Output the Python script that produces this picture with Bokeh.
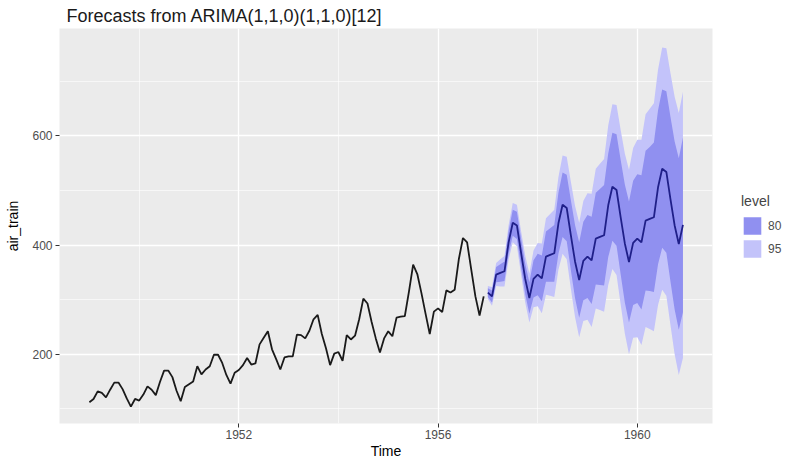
from bokeh.plotting import figure
from bokeh.models import FixedTicker, Range1d, Legend, LegendItem
from bokeh.embed import file_html
from bokeh.resources import INLINE

# ---- data ----
train_start = 1949
air_train = [
    112, 118, 132, 129, 121, 135, 148, 148, 136, 119, 104, 118,
    115, 126, 141, 135, 125, 149, 170, 170, 158, 133, 114, 140,
    145, 150, 178, 163, 172, 178, 199, 199, 184, 162, 146, 166,
    171, 180, 193, 181, 183, 218, 230, 242, 209, 191, 172, 194,
    196, 196, 236, 235, 229, 243, 264, 272, 237, 211, 180, 201,
    204, 188, 235, 227, 234, 264, 302, 293, 259, 229, 203, 229,
    242, 233, 267, 269, 270, 315, 364, 347, 312, 274, 237, 278,
    284, 277, 317, 313, 318, 374, 413, 405, 355, 306, 271, 306,
]

fc_start = 1957
fc_mean = [
    313, 306, 346, 349, 352, 405, 441, 436, 386, 338, 303, 338,
    346, 339, 379, 382, 385, 440, 474, 468, 418, 370, 336, 371,
    379, 372, 412, 415, 418, 473, 507, 501, 451, 403, 369, 404,
    412, 405, 445, 448, 451, 506, 540, 534, 484, 436, 402, 437,
]
hw80 = [
    8, 11, 14, 16, 18, 21, 24, 25, 26, 28, 29, 34,
    38, 42, 46, 49, 52, 56, 59, 61, 64, 67, 69, 72,
    76, 80, 84, 88, 92, 95, 99, 102, 105, 108, 111, 114,
    118, 123, 128, 132, 137, 141, 145, 148, 151, 154, 157, 160,
]
hw95 = [
    12, 17, 21, 25, 28, 32, 36, 38, 40, 43, 45, 52,
    58, 64, 70, 75, 80, 85, 90, 94, 98, 102, 105, 110,
    116, 122, 128, 134, 140, 146, 151, 156, 160, 165, 169, 174,
    181, 188, 195, 202, 209, 216, 222, 227, 231, 236, 240, 244,
]
levels = ["80", "95"]
x_ticks = [1952, 1956, 1960]
x_minor = [1950, 1954, 1958]
y_ticks = [200, 400, 600]
y_minor = [100, 300, 500, 700]

# ---- derived ----
t_train = [train_start + i / 12 for i in range(len(air_train))]
t_fc = [fc_start + i / 12 for i in range(len(fc_mean))]
lo80 = [m - h for m, h in zip(fc_mean, hw80)]
hi80 = [m + h for m, h in zip(fc_mean, hw80)]
lo95 = [m - h for m, h in zip(fc_mean, hw95)]
hi95 = [m + h for m, h in zip(fc_mean, hw95)]

FONT = "Liberation Sans"
c80 = "#9090F0"
c95 = "#C3C3FA"

p = figure(
    frame_width=653, frame_height=395,
    output_backend="svg", toolbar_location=None,
    x_range=Range1d(1948.40, 1961.51), y_range=Range1d(73, 797),
    min_border_left=59, min_border_right=10, min_border_top=0, min_border_bottom=0,
    title="Forecasts from ARIMA(1,1,0)(1,1,0)[12]",
)
p.background_fill_color = "#EBEBEB"
p.border_fill_color = "white"
p.outline_line_color = None

p.title.text_font = FONT
p.title.text_font_size = "18px"
p.title.text_font_style = "normal"
p.title.text_color = "#1a1a1a"
p.title.standoff = 6
p.title.align = "left"
p.title.offset = 7

r95 = p.varea(x=t_fc, y1=lo95, y2=hi95, fill_color=c95)
r80 = p.varea(x=t_fc, y1=lo80, y2=hi80, fill_color=c80)
p.line(t_train, air_train, line_color="#1a1a1a", line_width=1.8)
p.line(t_fc, fc_mean, line_color="#1F1F88", line_width=1.8)

p.xaxis.ticker = FixedTicker(ticks=x_ticks, minor_ticks=x_minor)
p.yaxis.ticker = FixedTicker(ticks=y_ticks, minor_ticks=y_minor)
for g in (p.xgrid, p.ygrid):
    g.grid_line_color = "white"
    g.grid_line_width = 1.3
    g.minor_grid_line_color = "white"
    g.minor_grid_line_width = 0.6

for ax in (p.xaxis, p.yaxis):
    ax.axis_line_color = None
    ax.major_tick_line_color = "#333333"
    ax.major_tick_out = 4
    ax.major_tick_in = 0
    ax.minor_tick_line_color = None
    ax.major_label_text_font = FONT
    ax.major_label_text_font_size = "12px"
    ax.major_label_text_color = "#4D4D4D"
    ax.axis_label_text_font = FONT
    ax.axis_label_text_font_size = "14px"
    ax.axis_label_text_font_style = "normal"
    ax.axis_label_text_color = "#000000"

p.xaxis.axis_label = "Time"
p.yaxis.axis_label = "air_train"
p.xaxis.major_label_standoff = 2
p.xaxis.axis_label_standoff = 1
p.yaxis.major_label_standoff = 3
p.yaxis.axis_label_standoff = 8

legend = Legend(
    items=[LegendItem(label=levels[0], renderers=[r80]),
           LegendItem(label=levels[1], renderers=[r95])],
    title="level", location="center_left",
    glyph_width=22, glyph_height=22, label_standoff=5,
    padding=0, margin=29, spacing=1,
    border_line_color=None, background_fill_alpha=0,
    title_text_font=FONT, title_text_font_size="14px", title_text_font_style="normal",
    label_text_font=FONT, label_text_font_size="12px", label_text_color="#4D4D4D",
    title_standoff=6,
)
p.add_layout(legend, "right")

open("out.html", "w").write(file_html(p, INLINE))
